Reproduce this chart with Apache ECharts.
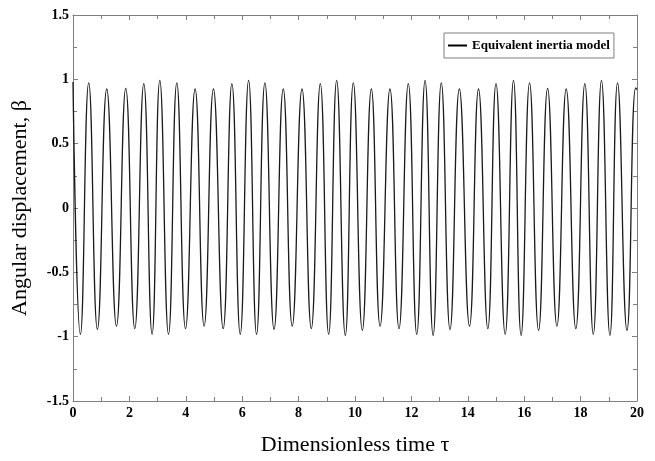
<!DOCTYPE html>
<html>
<head>
<meta charset="utf-8">
<script src="https://cdn.jsdelivr.net/npm/echarts@6/dist/echarts.min.js"></script>
<style>
  html, body { margin: 0; padding: 0; background: #fff; }
  #main { width: 655px; height: 461px; }
</style>
</head>
<body>
<div id="main"></div>
<script>
// peaks and troughs (tau, beta)
var tau = [0, 0.263, 0.557, 0.866, 1.196, 1.541, 1.871, 2.19, 2.51, 2.804,
  3.078, 3.387, 3.681, 3.99, 4.33, 4.65, 4.98, 5.325, 5.634, 5.93,
  6.227, 6.51, 6.805, 7.13, 7.455, 7.774, 8.12, 8.45, 8.77, 9.066,
  9.35, 9.656, 9.94, 10.26, 10.58, 10.89, 11.24, 11.56, 11.89, 12.19,
  12.485, 12.77, 13.06, 13.37, 13.70, 14.06, 14.38, 14.71, 15.0, 15.325,
  15.62, 15.89, 16.19, 16.51, 16.83, 17.16, 17.49, 17.83, 18.15, 18.45,
  18.74, 19.04, 19.31, 19.645, 19.95, 20];
var beta = [0.98, -0.982, 0.972, -0.943, 0.925, -0.918, 0.93, -0.938, 0.967, -0.982,
  0.992, -0.982, 0.972, -0.938, 0.925, -0.918, 0.925, -0.938, 0.967, -0.982,
  0.992, -0.982, 0.972, -0.943, 0.925, -0.918, 0.925, -0.938, 0.967, -0.982,
  0.992, -0.99, 0.972, -0.951, 0.925, -0.918, 0.925, -0.938, 0.967, -0.982,
  0.992, -0.99, 0.972, -0.945, 0.925, -0.918, 0.925, -0.938, 0.967, -0.982,
  0.992, -0.99, 0.972, -0.951, 0.93, -0.918, 0.925, -0.938, 0.967, -0.982,
  0.992, -0.99, 0.972, -0.951, 0.933, 0.92];
var xTicks = [0, 2, 4, 6, 8, 10, 12, 14, 16, 18, 20];
var yTicks = [-1.5, -1, -0.5, 0, 0.5, 1, 1.5];
var seriesName = "Equivalent inertia model";

var chart = echarts.init(document.getElementById("main"));
var serif = "Liberation Serif";
var frame = "#7f7f7f";

var points = [];
for (var i = 0; i < tau.length; i++) {
  points.push([tau[i], beta[i]]);
}

function axisBase(show) {
  return {
    axisLine: { show: true, onZero: false, lineStyle: { color: frame, width: 1 } },
    axisTick: { show: true, inside: true, length: 5, lineStyle: { color: frame } },
    minorTick: { show: true, splitNumber: 2, length: 4, lineStyle: { color: frame } },
    splitLine: { show: false },
    axisLabel: {
      show: show,
      color: "#000",
      fontFamily: serif,
      fontWeight: "bold",
      fontSize: 14
    }
  };
}

var xBottom = axisBase(true);
xBottom.type = "value";
xBottom.min = xTicks[0];
xBottom.max = xTicks[xTicks.length - 1];
xBottom.interval = 2;
xBottom.position = "bottom";
xBottom.axisLabel.margin = 5;
xBottom.name = "Dimensionless time \u03c4";
xBottom.nameLocation = "middle";
xBottom.nameGap = 33;
xBottom.nameTextStyle = { color: "#000", fontFamily: serif, fontSize: 22 };

var xTop = axisBase(false);
xTop.type = "value";
xTop.min = xTicks[0];
xTop.max = xTicks[xTicks.length - 1];
xTop.interval = 2;
xTop.position = "top";

var yLeft = axisBase(true);
yLeft.type = "value";
yLeft.min = yTicks[0];
yLeft.max = yTicks[yTicks.length - 1];
yLeft.interval = 0.5;
yLeft.position = "left";
yLeft.axisLabel.margin = 4;
yLeft.axisLabel.formatter = function (v) { return String(v); };
yLeft.name = "Angular displacement, \u03b2";
yLeft.nameLocation = "middle";
yLeft.nameGap = 42;
yLeft.nameTextStyle = { color: "#000", fontFamily: serif, fontSize: 22 };

var yRight = axisBase(false);
yRight.type = "value";
yRight.min = yTicks[0];
yRight.max = yTicks[yTicks.length - 1];
yRight.interval = 0.5;
yRight.position = "right";

var option = {
  animation: false,
  backgroundColor: "#fff",
  grid: { left: 73, right: 18, top: 15, bottom: 59, containLabel: false },
  legend: {
    data: [seriesName],
    left: 444,
    top: 33,
    orient: "vertical",
    borderColor: frame,
    borderWidth: 1,
    borderRadius: 0,
    padding: [6, 4, 6, 4],
    itemWidth: 19,
    itemHeight: 2,
    itemGap: 0,
    icon: "rect",
    textStyle: { color: "#000", fontFamily: serif, fontWeight: "bold", fontSize: 13 }
  },
  xAxis: [xBottom, xTop],
  yAxis: [yLeft, yRight],
  series: [
    {
      name: seriesName,
      type: "line",
      xAxisIndex: 0,
      yAxisIndex: 0,
      data: points,
      smooth: 0.5,
      showSymbol: false,
      symbol: "none",
      lineStyle: { color: "#1a1a1a", width: 1.3 },
      itemStyle: { color: "#000" }
    }
  ]
};

chart.setOption(option);
window.addEventListener("resize", function () {
  chart.resize();
});
</script>
</body>
</html>
